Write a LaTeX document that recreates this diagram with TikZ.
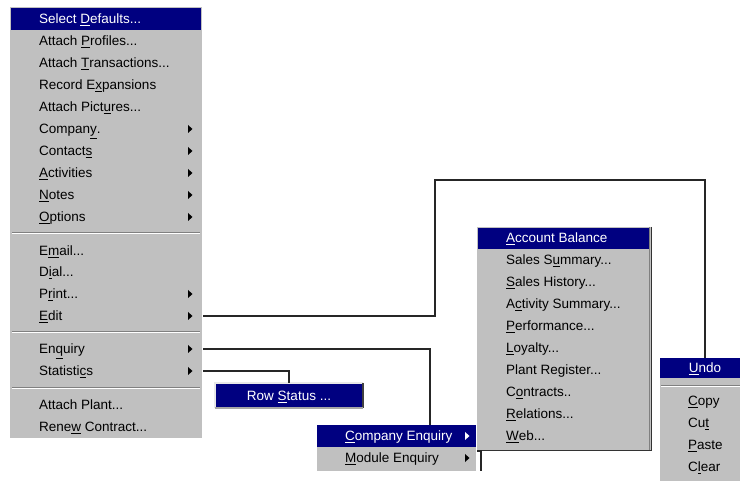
\documentclass[tikz,border=0pt]{standalone}
\usepackage{fontspec}
\setmainfont{Liberation Sans}
\definecolor{mgray}{HTML}{C0C0C0}
\definecolor{navy}{HTML}{000080}
\definecolor{dgray}{HTML}{808080}
\definecolor{lgray}{HTML}{E8E8E8}
\newcommand{\ul}[1]{\underline{#1}}
\begin{document}
\begin{tikzpicture}[x=1pt,y=-1pt,
  box/.style={fill=mgray, draw=none, anchor=north west, inner sep=0pt, outer sep=0pt},
  bar/.style={fill=navy, draw=none, anchor=north west, inner sep=0pt, outer sep=0pt},
  item/.style={anchor=west, inner sep=0pt, text height=9.7pt, text depth=0pt, font=\fontsize{13.5}{14}\selectfont},
  hitem/.style={item, text=white},
  conn/.style={draw=black!85, line width=1.1pt},
  subarrow/.pic={\fill[black] (-2,-4) -- (-2,4) -- (2.5,0) -- cycle;},
  subarroww/.pic={\fill[white] (-2,-4) -- (-2,4) -- (2.5,0) -- cycle;},
]
\useasboundingbox (0,0) rectangle (740,481);
\fill[white] (0,0) rectangle (740,481);

% ---------------- main menu ----------------
\node[box, minimum width=192pt, minimum height=431pt] (main) at (10,7) {};
\node[bar, minimum width=190pt, minimum height=22pt] (selbar) at (11,8) {};
\node[hitem] (i1) at (39,19) {Select \ul{D}efaults...};
\node[item] (i2) at (39,41) {Attach \ul{P}rofiles...};
\node[item] (i3) at (39,63) {Attach \ul{T}ransactions...};
\node[item] (i4) at (39,85) {Record E\ul{x}pansions};
\node[item] (i5) at (39,107) {Attach Pict\ul{u}res...};
\node[item] (i6) at (39,129) {Compan\ul{y}.};
\node[item] (i7) at (39,151) {Contact\ul{s}};
\node[item] (i8) at (39,173) {\ul{A}ctivities};
\node[item] (i9) at (39,195) {\ul{N}otes};
\node[item] (i10) at (39,217) {\ul{O}ptions};
\node[item] (i11) at (39,251) {E\ul{m}ail...};
\node[item] (i12) at (39,272) {D\ul{i}al...};
\node[item] (i13) at (39,294) {P\ul{r}int...};
\node[item] (i14) at (39,316) {\ul{E}dit};
\node[item] (i15) at (39,349) {En\ul{q}uiry};
\node[item] (i16) at (39,371) {Statisti\ul{c}s};
\node[item] (i17) at (39,405) {Attach Plant...};
\node[item] (i18) at (39,427) {Rene\ul{w} Contract...};
\foreach \y in {129,151,173,195,217,294,316,349,371}
  \pic at (190,\y) {subarrow};
\foreach \y in {232.5,332,388}{
  \draw[dgray, line width=1pt] (12,\y) -- (200,\y);
  \draw[white, line width=1pt] (12,\y+1) -- (200,\y+1);
}
\coordinate (editarr) at (203,316);
\coordinate (enqarr) at (203,349);
\coordinate (statarr) at (203,371);

% ---------------- Row Status ----------------
\node[bar, minimum width=148pt, minimum height=25pt] (rowstatus) at (215,383) {};
\draw[lgray, line width=1.2pt] (rowstatus.south west) -- (rowstatus.north west) -- (rowstatus.north east);
\draw[black!75, line width=1.6pt] (rowstatus.north east) -- (rowstatus.south east);
\draw[dgray!70, line width=1.2pt] (rowstatus.south west) -- (rowstatus.south east);
\node[hitem, anchor=center] (rs) at (289,395.5) {Row \ul{S}tatus ...};

% ---------------- Company Enquiry menu ----------------
\node[box, minimum width=159pt, minimum height=46pt] (cemenu) at (317,425) {};
\node[bar, minimum width=159pt, minimum height=22pt] (cebar) at (317,425) {};
\node[hitem] (ce1) at (345,436) {\ul{C}ompany Enquiry};
\node[item] (ce2) at (345,458) {\ul{M}odule Enquiry};
\pic at (467,436) {subarroww};
\pic at (467,458) {subarrow};
\coordinate (ceentry) at (430,425);

% ---------------- Account menu ----------------
\node[box, minimum width=174pt, minimum height=224pt] (accmenu) at (477,227) {};
\draw[dgray, line width=1pt] (649.5,227) -- (649.5,450);
\draw[black!80, line width=1pt] (651,227) -- (651,451) -- (477,451);
\node[bar, minimum width=171pt, minimum height=21pt] (accbar) at (478,228) {};
\node[hitem] (a1) at (506,238) {\ul{A}ccount Balance};
\node[item] (a2) at (506,260) {Sales S\ul{u}mmary...};
\node[item] (a3) at (506,282) {\ul{S}ales History...};
\node[item] (a4) at (506,304) {A\ul{c}tivity Summary...};
\node[item] (a5) at (506,326) {\ul{P}erformance...};
\node[item] (a6) at (506,348) {\ul{L}oyalty...};
\node[item] (a7) at (506,370) {Plant Register...};
\node[item] (a8) at (506,392) {C\ul{o}ntracts..};
\node[item] (a9) at (506,414) {\ul{R}elations...};
\node[item] (a10) at (506,436) {\ul{W}eb...};
\coordinate (modend) at (481,471);

% ---------------- Edit menu ----------------
\node[box, minimum width=90pt, minimum height=125pt] (undomenu) at (660,358) {};
\node[bar, minimum width=90pt, minimum height=20pt] (undobar) at (660,358) {};
\node[hitem, anchor=center] (u0) at (705,368) {\ul{U}ndo};
\draw[dgray, line width=1pt] (661,386) -- (740,386);
\draw[white, line width=1pt] (661,387) -- (740,387);
\node[item] (u1) at (688,401) {\ul{C}opy};
\node[item] (u2) at (688,423) {Cu\ul{t}};
\node[item] (u3) at (688,445) {\ul{P}aste};
\node[item] (u4) at (688,467) {C\ul{l}ear};

% ---------------- connectors ----------------
\draw[conn] (editarr) -| (435,180) -| (undobar.north);
\draw[conn] (enqarr) -| (ceentry);
\draw[conn] (statarr) -| (rowstatus.north);
\draw[conn] (accmenu.south west) -| (modend);
\end{tikzpicture}
\end{document}
